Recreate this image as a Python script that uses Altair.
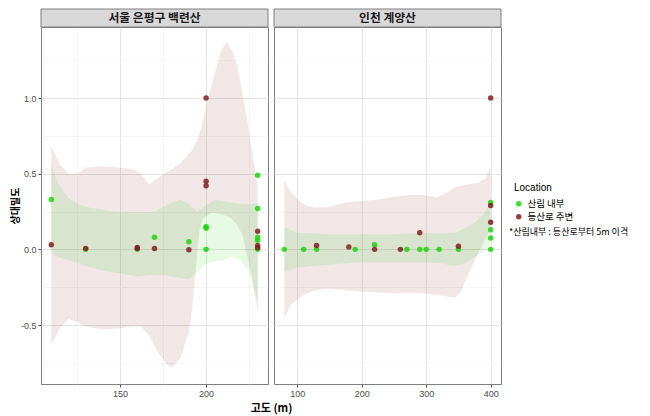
import altair as alt
import pandas as pd

FONT = "Noto Sans CJK KR"
NUMFONT = "Liberation Sans"
SITES = ["서울 은평구 백련산", "인천 계양산"]
LOCS = ["산림 내부", "등산로 주변"]
COLORS = ["#1cd50c", "#7f2020"]
NOTE = "*산림내부 : 등산로부터 5m 이격"

# ---- points ----
s1_in_x = [110, 130, 160, 170, 190, 200, 200, 200, 230, 230, 230, 230, 230]
s1_in_y = [0.33, 0.0, 0.0, 0.08, 0.05, 0.15, 0.14, 0.0, 0.49, 0.27, 0.08, 0.06, 0.0]
s1_tr_x = [110, 130, 160, 160, 170, 190, 200, 200, 200, 230, 230, 230]
s1_tr_y = [0.03, 0.005, 0.013, 0.005, 0.005, -0.002, 1.0, 0.45, 0.42, 0.12, 0.025, 0.01]

s2_in_x = [80, 110, 130, 190, 220, 270, 290, 300, 320, 350, 400, 400, 400, 400]
s2_in_y = [0.0, 0.0, 0.0, 0.0, 0.03, 0.0, 0.0, 0.0, 0.0, 0.0, 0.31, 0.13, 0.075, 0.0]
s2_tr_x = [130, 180, 220, 260, 290, 350, 400, 400, 400]
s2_tr_y = [0.025, 0.015, 0.0, 0.0, 0.11, 0.02, 1.0, 0.29, 0.18]

# ---- smooth confidence bands (edges) ----
b1_in_x = [110, 114, 120, 125, 130, 140, 150, 160, 170, 175, 180, 185, 190, 195, 200, 205, 210, 215, 220, 225, 230]
b1_in_hi = [0.56, 0.43, 0.34, 0.30, 0.28, 0.26, 0.245, 0.245, 0.25, 0.28, 0.31, 0.33, 0.30, 0.25, 0.29, 0.33, 0.32, 0.31, 0.30, 0.30, 0.30]
b1_in_lo = [-0.02, -0.05, -0.07, -0.09, -0.11, -0.14, -0.16, -0.18, -0.17, -0.17, -0.18, -0.19, -0.20, -0.15, -0.09, -0.08, -0.07, -0.05, -0.07, -0.15, -0.35]

b1_tr_x = [110, 115, 120, 125, 130, 140, 150, 158, 162, 167, 172, 177, 180, 185, 190, 192, 194, 196, 198, 200, 203, 206, 209, 212, 215, 218, 221, 224, 227, 230]
b1_tr_hi = [0.68, 0.56, 0.50, 0.50, 0.54, 0.55, 0.54, 0.53, 0.50, 0.43, 0.47, 0.51, 0.53, 0.57, 0.63, 0.66, 0.70, 0.76, 0.84, 0.95, 1.08, 1.20, 1.32, 1.37, 1.32, 1.22, 1.04, 0.85, 0.63, 0.42]
b1_tr_lo = [-0.63, -0.52, -0.46, -0.48, -0.51, -0.53, -0.52, -0.51, -0.51, -0.57, -0.68, -0.76, -0.78, -0.72, -0.55, -0.38, -0.13, 0.12, 0.20, 0.22, 0.24, 0.24, 0.23, 0.22, 0.20, 0.16, 0.10, -0.05, -0.20, -0.42]

b2_in_x = [80, 100, 150, 200, 250, 300, 320, 345, 360, 376, 390, 400]
b2_in_hi = [0.145, 0.11, 0.10, 0.10, 0.10, 0.11, 0.105, 0.11, 0.14, 0.18, 0.24, 0.31]
b2_in_lo = [-0.15, -0.12, -0.10, -0.085, -0.085, -0.085, -0.09, -0.11, -0.09, -0.05, -0.01, 0.035]

b2_tr_x = [80, 90, 100, 115, 127, 148, 174, 200, 226, 251, 275, 293, 316, 330, 345, 355, 365, 381, 392, 396, 400]
b2_tr_hi = [0.45, 0.38, 0.33, 0.29, 0.276, 0.28, 0.31, 0.32, 0.33, 0.35, 0.36, 0.36, 0.345, 0.37, 0.41, 0.42, 0.43, 0.44, 0.47, 0.51, 0.55]
b2_tr_lo = [-0.45, -0.37, -0.33, -0.29, -0.27, -0.26, -0.27, -0.28, -0.285, -0.29, -0.29, -0.29, -0.30, -0.31, -0.32, -0.27, -0.17, -0.02, 0.07, 0.10, 0.13]

# ---- axes ----
Y_DOMAIN = [-0.89, 1.47]
Y_MAJOR = [-0.5, 0.0, 0.5, 1.0]
Y_MINOR = [-0.75, -0.25, 0.25, 0.75, 1.25]
X1_DOMAIN = [104, 236]
X1_MAJOR = [150, 200]
X1_MINOR = [125, 175, 225]
X2_DOMAIN = [64, 416]
X2_MAJOR = [100, 200, 300, 400]
X2_MINOR = [150, 250, 350]

W, H = 227, 357
SPACING = 6


def pts_df(site, xin, yin, xtr, ytr):
    rows = [{"site": site, "Location": LOCS[0], "ord": 0, "x": a, "y": b} for a, b in zip(xin, yin)]
    rows += [{"site": site, "Location": LOCS[1], "ord": 1, "x": a, "y": b} for a, b in zip(xtr, ytr)]
    return pd.DataFrame(rows)


def band_df(xin, loin, hiin, xtr, lotr, hitr):
    rows = [{"Location": LOCS[1], "x": a, "lo": l, "hi": h} for a, l, h in zip(xtr, lotr, hitr)]
    rows += [{"Location": LOCS[0], "x": a, "lo": l, "hi": h} for a, l, h in zip(xin, loin, hiin)]
    return pd.DataFrame(rows)


def cond(major, yes, no):
    return {"condition": {"test": f"indexof({major}, datum.value) >= 0", "value": yes}, "value": no}


def axis(major, minor, show_labels, title=None, fmt=None, title_x=None, title_size=11):
    vals = sorted(major + minor)
    if fmt:
        lab = f"indexof({major}, datum.value) >= 0 ? replace(format(datum.value, '{fmt}'), '\u2212', '-') : ''"
    else:
        lab = f"indexof({major}, datum.value) >= 0 ? datum.label : ''"
    kw = dict(
        values=vals,
        grid=True,
        gridColor=cond(major, "#e4e4e4", "#f1f1f1"),
        gridWidth=cond(major, 1.0, 0.7),
        domain=False,
        labelExpr=lab if show_labels else "''",
        labelFont=NUMFONT,
        labelFontSize=9,
        labelColor="#4d4d4d",
        labelPadding=2,
        tickColor="#4d4d4d",
        tickSize=3 if show_labels else 0,
        tickOpacity=cond(major, 1, 0) if show_labels else 0,
        titleFont=FONT,
        titleFontSize=title_size,
        titleFontWeight="bold",
        titleColor="#000000",
        title=title,
    )
    if title_x is not None:
        kw["titleX"] = title_x
        kw["titleAlign"] = "center"
    return alt.Axis(**kw)


color_scale = alt.Scale(domain=LOCS, range=COLORS)
LEGEND = alt.Legend(title="Location", orient="none", legendX=473, legendY=156,
                    symbolType="circle",
                    titleFont=NUMFONT, titleFontSize=10, titleFontWeight="normal",
                    titleColor="#000000", labelFont=FONT, labelFontSize=9.5,
                    labelColor="#000000", symbolSize=30, symbolOpacity=0.85,
                    rowPadding=2, titlePadding=6)


def panel(site, pts, bands, xdom, xmaj, xmin, first):
    xs = alt.Scale(domain=xdom, nice=False, zero=False)
    ys = alt.Scale(domain=Y_DOMAIN, nice=False, zero=False)
    xax = axis(xmaj, xmin, True, title="고도 (m)" if first else None,
               title_x=(2 * W + SPACING) / 2 if first else None)
    if first:
        yax = axis(Y_MAJOR, Y_MINOR, True, title="상대밀도", fmt=".1f", title_x=-21, title_size=10)
    else:
        yax = axis(Y_MAJOR, Y_MINOR, False, title=None, fmt=".1f")

    area = alt.Chart(bands).mark_area(opacity=0.11).encode(
        x=alt.X("x:Q", scale=xs, axis=xax),
        y=alt.Y("lo:Q", scale=ys, axis=yax),
        y2="hi:Q",
        fill=alt.Fill("Location:N", scale=color_scale, legend=LEGEND),
    )
    points = alt.Chart(pts).mark_circle(size=30, opacity=0.85).encode(
        x=alt.X("x:Q", scale=xs),
        y=alt.Y("y:Q", scale=ys),
        fill=alt.Fill("Location:N", scale=color_scale, legend=LEGEND),
        order=alt.Order("ord:Q"),
    )

    strip_data = pd.DataFrame({"site": [site]})
    strip = alt.Chart(strip_data).mark_rect(fill="#d9d9d9", stroke="#7f7f7f", strokeWidth=1).encode(
        x=alt.value(0), x2=alt.value(W), y=alt.value(-18), y2=alt.value(0)
    )
    strip_text = alt.Chart(strip_data).mark_text(
        font=FONT, fontSize=11.8, fontWeight="bold", color="#1a1a1a", baseline="middle", align="center"
    ).encode(x=alt.value(W / 2), y=alt.value(-9), text="site:N")

    layers = [area, points, strip, strip_text]
    if not first:
        note = alt.Chart(pd.DataFrame({"t": [NOTE]})).mark_text(
            font=FONT, fontSize=9, color="#000000", align="left", baseline="middle"
        ).encode(x=alt.value(W + 8), y=alt.value(205), text="t:N")
        layers.append(note)
    return alt.layer(*layers).properties(width=W, height=H)


p1 = panel(SITES[0], pts_df(SITES[0], s1_in_x, s1_in_y, s1_tr_x, s1_tr_y),
           band_df(b1_in_x, b1_in_lo, b1_in_hi, b1_tr_x, b1_tr_lo, b1_tr_hi),
           X1_DOMAIN, X1_MAJOR, X1_MINOR, True)
p2 = panel(SITES[1], pts_df(SITES[1], s2_in_x, s2_in_y, s2_tr_x, s2_tr_y),
           band_df(b2_in_x, b2_in_lo, b2_in_hi, b2_tr_x, b2_tr_lo, b2_tr_hi),
           X2_DOMAIN, X2_MAJOR, X2_MINOR, False)

chart = alt.hconcat(p1, p2, spacing=SPACING, bounds="flush").resolve_scale(
    fill="shared"
).resolve_legend(fill="shared").properties(
    padding={"left": 1, "top": 0, "right": 2, "bottom": 2},
    background="white",
).configure_view(stroke="#7f7f7f", strokeWidth=1)

chart.save("out.html", embed_options={"renderer": "svg", "actions": False})
